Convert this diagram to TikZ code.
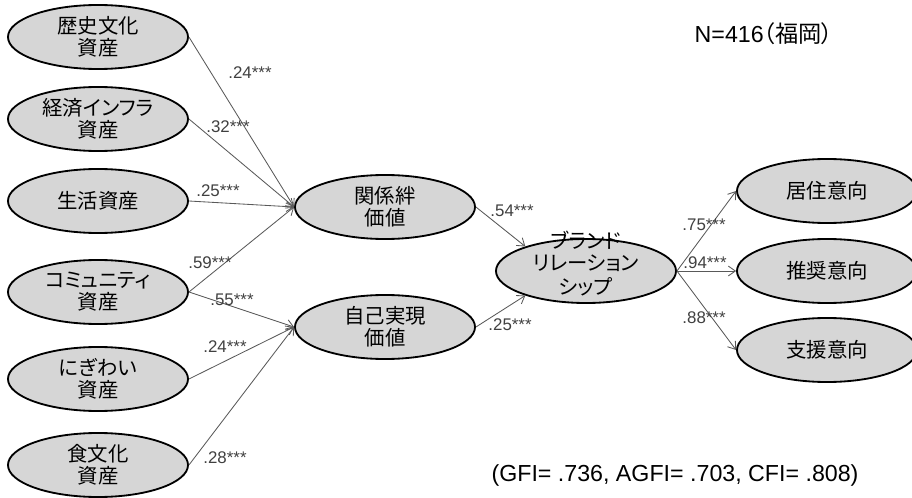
\documentclass[tikz,border=0pt]{standalone}
\usepackage{fontspec}
\setmainfont{Liberation Sans}
\newfontfamily\jp[RawFeature=+palt]{Noto Sans CJK JP}
\usetikzlibrary{arrows.meta,shapes.geometric}

\tikzset{
  latent/.style={ellipse, draw=black, line width=1.3pt, fill=black!16,
    minimum width=4.5cm, minimum height=1.6cm, inner sep=0pt,
    align=center, font=\jp\fontsize{14.5}{15.8}\selectfont},
  path/.style={draw=black!65, line width=0.6pt,
    -{Straight Barb[length=5pt,width=7pt]}},
  coef/.style={font=\fontsize{12}{14}\selectfont, text=black!75, inner sep=0pt}
}

\begin{document}
\begin{tikzpicture}[x=0.025cm, y=-0.025cm]
            \useasboundingbox (0,0) rectangle (912,498);

            % asset factors
            \node[latent] (hc) at (98,37)  {歴史文化\\資産};
            \node[latent] (ei) at (98,119) {経済インフラ\\資産};
            \node[latent] (la) at (98,201) {生活資産};
            \node[latent] (co) at (98,292) {コミュニティ\\資産};
            \node[latent] (ni) at (98,379) {にぎわい\\資産};
            \node[latent] (fc) at (98,465) {食文化\\資産};

            % value factors
            \node[latent] (kv) at (385,207) {関係絆\\価値};
            \node[latent] (sv) at (385,327) {自己実現\\価値};
            \node[latent] (br) at (586,271)
                {\smash{\begin{tabular}{@{}c@{}}ブランド\\リレーション\\シップ\end{tabular}}};

            % intentions
            \node[latent] (ri) at (827,191) {居住意向};
            \node[latent] (rc) at (827,271) {推奨意向};
            \node[latent] (su) at (827,350) {支援意向};

            \draw[path] (hc.east) -- (kv.west);
            \draw[path] (ei.east) -- (kv.west);
            \draw[path] (la.east) -- (kv.west);
            \draw[path] (co.east) -- (kv.west);
            \draw[path] (co.east) -- (sv.west);
            \draw[path] (ni.east) -- (sv.west);
            \draw[path] (fc.east) -- (sv.west);
            \draw[path] (kv.east) -- (br.158);
            \draw[path] (sv.east) -- (br.202);
            \draw[path] (br.east) -- (ri.west);
            \draw[path] (br.east) -- (rc.west);
            \draw[path] (br.east) -- (su.west);

            % coefficients
            \node[coef] (c1) at (250,73)  {.24***};
            \node[coef] (c2) at (228,127) {.32***};
            \node[coef] (c3) at (218,191) {.25***};
            \node[coef] (c4) at (210,263) {.59***};
            \node[coef] (c5) at (232,300) {.55***};
            \node[coef] (c6) at (225,347) {.24***};
            \node[coef] (c7) at (225,458) {.28***};
            \node[coef] (c8) at (512,211) {.54***};
            \node[coef] (c9) at (510,325) {.25***};
            \node[coef] (c10) at (704,225) {.75***};
            \node[coef] (c11) at (705,263) {.94***};
            \node[coef] (c12) at (704,318) {.88***};

            \node[font=\fontsize{16.5}{19}\selectfont] (n) at (764,34) {N=416{\jp（福岡）}};
            \node[font=\fontsize{16.5}{19}\selectfont] (fit) at (675,475) {(GFI= .736, AGFI= .703, CFI= .808)};
\end{tikzpicture}
\end{document}
